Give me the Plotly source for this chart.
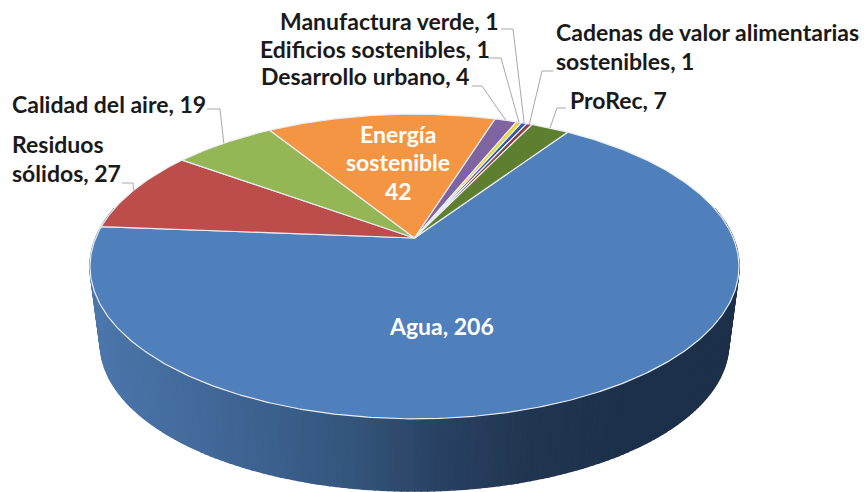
import math
import plotly.graph_objects as go

# --- data ---
categories = ["Agua", "Residuos sólidos", "Calidad del aire", "Energía sostenible",
              "Desarrollo urbano", "Edificios sostenibles", "Manufactura verde",
              "Cadenas de valor alimentarias sostenibles", "ProRec"]
values = [206, 27, 19, 42, 4, 1, 1, 1, 7]
colors = ["#4f80bc", "#bc4d4a", "#95b655", "#f39542", "#8064a2", "#f2d52a", "#2f5f9f", "#8e3b3b", "#5f7f30"]

outside_labels = [
    ("Manufactura verde, 1", 279, 21), ("Edificios sostenibles, 1", 259, 49),
    ("Desarrollo urbano, 4", 260, 76), ("Calidad del aire, 19", 11, 104),
    ("Residuos", 11, 144), ("sólidos, 27", 11, 173),
    ("Cadenas de valor alimentarias", 555, 32), ("sostenibles, 1", 555, 61),
    ("ProRec, 7", 569, 100),
]
inside_labels = [("Energía", 398, 134), ("sostenible", 398, 162), ("42", 398, 191), ("Agua, 206", 441, 326)]

# category index -> leader line start and elbow, in page pixels
leaders = {6: [(501, 29), (513, 29)], 5: [(488, 58), (501, 58)], 4: [(472, 86), (482, 86)],
           7: [(553, 71), (542, 71)], 8: [(566, 108), (557, 108)], 2: [(207, 109), (220, 109)],
           1: [(122, 183), (133, 183)]}

# --- perspective geometry of the 3-D disc ---
APEX_X, APEX_Y = 414.5, 238.0
R, S, K = 318.8, 147.0, 0.187
START = 33.7
DEPTH, BOTTOM_SCALE = 78.0, 0.968
wall_stops = [(90, (76, 119, 172)), (250, (62, 99, 145)), (350, (52, 86, 124)),
              (433, (42, 67, 101)), (530, (33, 54, 80)), (640, (29, 48, 73)), (740, (29, 48, 73))]


def project(deg, scale=1.0, dy=0.0):
    a = math.radians(deg)
    x, y = math.sin(a), -math.cos(a)
    w = 1 - K * y
    return APEX_X + scale * R * x / w, APEX_Y + dy + scale * S * y / w


def wall_color(x):
    for (x0, c0), (x1, c1) in zip(wall_stops, wall_stops[1:]):
        if x <= x1:
            t = max(0, (x - x0) / (x1 - x0))
            return "rgb(%d,%d,%d)" % tuple(c0[i] + (c1[i] - c0[i]) * t for i in range(3))
    return "rgb(%d,%d,%d)" % wall_stops[-1][1]


fig = go.Figure()


def poly(xs, ys, fill, line=None, width=0.0):
    fig.add_trace(go.Scatter(x=xs, y=ys, mode="lines", fill="toself",
                             fillcolor=fill, hoverinfo="skip", showlegend=False,
                             line=dict(color=line or fill, width=width)))


# side wall: thin strips around the front half, shaded by position
step = 1.0
deg = 78.0
while deg < 282.0:
    p0 = project(deg)
    p1 = project(deg + step)
    q1 = project(deg + step, BOTTOM_SCALE, DEPTH)
    q0 = project(deg, BOTTOM_SCALE, DEPTH)
    c = wall_color((p0[0] + p1[0]) / 2)
    poly([p0[0], p1[0], q1[0], q0[0], p0[0]], [p0[1], p1[1], q1[1], q0[1], p0[1]], c, c, 1.5)
    deg += step

# top face slices from the values
total = sum(values)
angle = START
mids = []
for v, col in zip(values, colors):
    sweep = 360.0 * v / total
    n = max(2, int(sweep * 2))
    pts = [project(angle + sweep * i / n) for i in range(n + 1)]
    xs = [APEX_X] + [p[0] for p in pts] + [APEX_X]
    ys = [APEX_Y] + [p[1] for p in pts] + [APEX_Y]
    poly(xs, ys, col, "#e9edf3", 1.2)
    mids.append(angle + sweep / 2)
    angle += sweep

# leader lines
for idx, pts in leaders.items():
    end = project(mids[idx], 1.0)
    line_pts = pts + [end]
    fig.add_trace(go.Scatter(x=[p[0] for p in line_pts], y=[p[1] for p in line_pts], mode="lines",
                             hoverinfo="skip", showlegend=False, line=dict(color="#a8a8a8", width=1)))

FONT = "Lato"
annotations = []
for text, x, y in outside_labels:
    annotations.append(dict(x=x, y=y, text="<b>" + text + "</b>", xanchor="left", yanchor="middle",
                            showarrow=False, xref="x", yref="y", borderpad=0,
                            font=dict(family=FONT, size=23, color="#1a1a1a")))
for text, x, y in inside_labels:
    annotations.append(dict(x=x, y=y, text="<b>" + text + "</b>", xanchor="center", yanchor="middle",
                            showarrow=False, xref="x", yref="y", borderpad=0,
                            font=dict(family=FONT, size=23, color="#ffffff")))

fig.update_layout(
    width=866, height=492, margin=dict(l=0, r=0, t=0, b=0),
    paper_bgcolor="white", plot_bgcolor="white", showlegend=False,
    xaxis=dict(range=[0, 866], visible=False, fixedrange=True),
    yaxis=dict(range=[492, 0], visible=False, fixedrange=True),
    annotations=annotations,
)
fig.write_html("out.html", config={"displayModeBar": False},
               post_script="document.body.style.margin='0';document.body.style.overflow='hidden';")
